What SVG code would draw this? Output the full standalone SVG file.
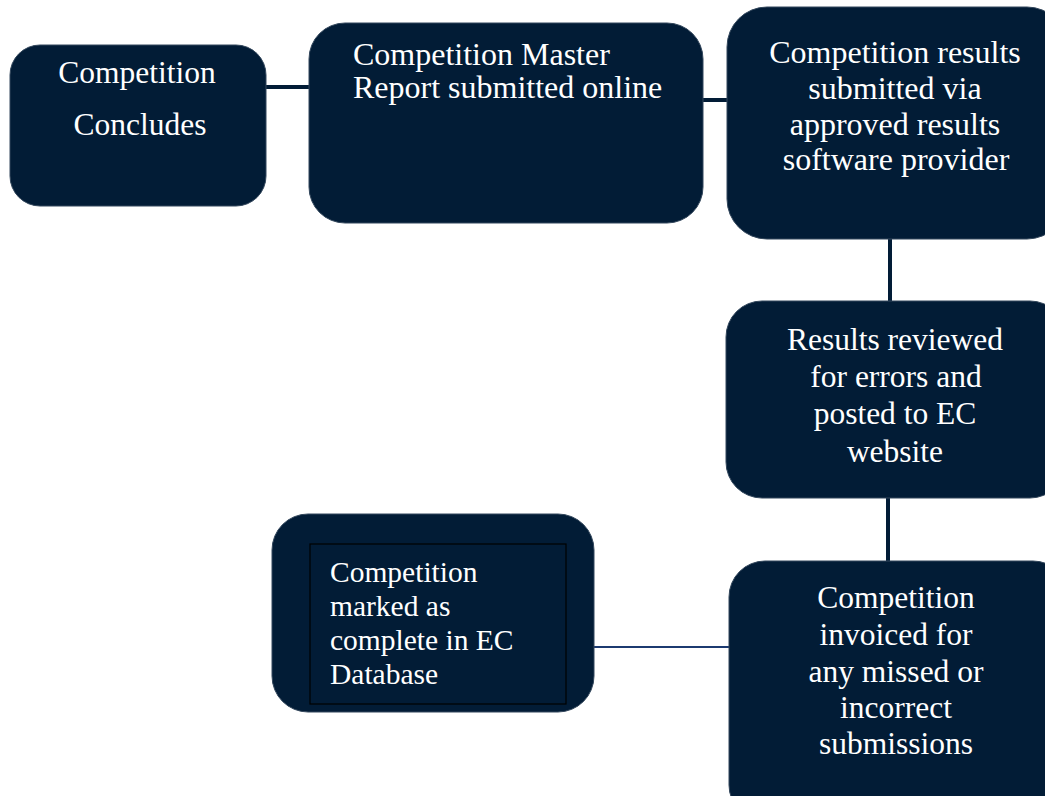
<svg xmlns="http://www.w3.org/2000/svg" width="1045" height="796" viewBox="0 0 1045 796">
<style>
.box{fill:#021c36;stroke:#33475c;stroke-width:1}
.inner{fill:none;stroke:#000000;stroke-width:1.2}
.t{font-family:"Liberation Serif","Times New Roman",serif;font-size:31.5px;fill:#ffffff}
.big{font-size:32px}
.sm{font-size:29.5px}
.c{text-anchor:middle}
.conn{stroke:#021c36;stroke-width:4;fill:none}
.conn2{stroke:#1c3a70;stroke-width:2.2;fill:none}
</style>
<rect width="1045" height="796" fill="#ffffff"/>
<g id="connectors">
<line class="conn" x1="265" y1="87" x2="311" y2="87"/>
<line class="conn" x1="701" y1="100" x2="729" y2="100"/>
<line class="conn" x1="890" y1="237" x2="890" y2="303"/>
<line class="conn" x1="888" y1="496" x2="888" y2="563"/>
<line class="conn2" x1="593" y1="647" x2="731" y2="647"/>
</g>
<g id="node1">
<rect class="box" x="10" y="45" width="256" height="161" rx="30"/>
<text class="t c" x="137" y="83">Competition</text>
<text class="t c" x="140" y="135">Concludes</text>
</g>
<g id="node2">
<rect class="box" x="309" y="23" width="394" height="200" rx="36"/>
<text class="t big" x="353" y="65">Competition Master</text>
<text class="t big" x="353" y="98">Report submitted online</text>
</g>
<g id="node3">
<rect class="box" x="727" y="7" width="340" height="232" rx="40"/>
<text class="t c big" x="895" y="63">Competition results</text>
<text class="t c big" x="895" y="99">submitted via</text>
<text class="t c big" x="895" y="135">approved results</text>
<text class="t c big" x="896" y="170">software provider</text>
</g>
<g id="node4">
<rect class="box" x="726" y="301" width="340" height="197" rx="36"/>
<text class="t c" x="895" y="350">Results reviewed</text>
<text class="t c" x="896" y="387">for errors and</text>
<text class="t c" x="895" y="424">posted to EC</text>
<text class="t c" x="895" y="462">website</text>
</g>
<g id="node5">
<rect class="box" x="729" y="561" width="340" height="260" rx="36"/>
<text class="t c" x="896" y="608">Competition</text>
<text class="t c" x="896" y="645">invoiced for</text>
<text class="t c" x="896" y="682">any missed or</text>
<text class="t c" x="896" y="718">incorrect</text>
<text class="t c" x="896" y="754">submissions</text>
</g>
<g id="node6">
<rect class="box" x="272" y="514" width="322" height="198" rx="36"/>
<rect class="inner" x="310" y="544" width="256" height="160"/>
<text class="t sm" x="330" y="582">Competition</text>
<text class="t sm" x="330" y="616">marked as</text>
<text class="t sm" x="330" y="650">complete in EC</text>
<text class="t sm" x="330" y="684">Database</text>
</g>
</svg>
